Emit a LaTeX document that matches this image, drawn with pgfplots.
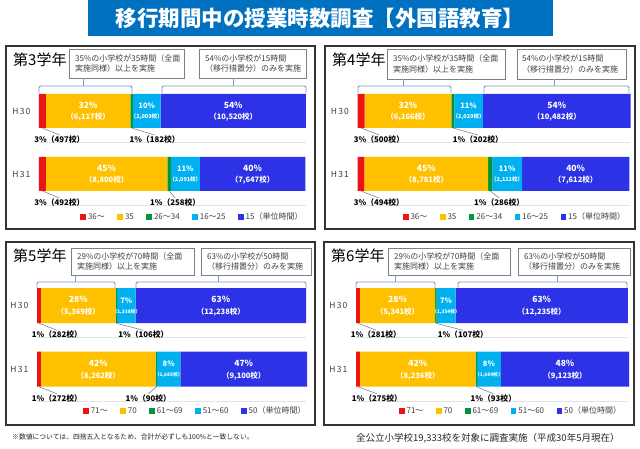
\documentclass[border=0pt]{standalone}
\usepackage{fontspec}
\setmainfont{Noto Sans CJK JP}
\usepackage{pgfplots}
\pgfplotsset{compat=1.18}
\definecolor{cRed}{RGB}{235,20,20}
\definecolor{cYel}{RGB}{255,192,0}
\definecolor{cGrn}{RGB}{0,150,60}
\definecolor{cCya}{RGB}{0,176,240}
\definecolor{cBlu}{RGB}{45,50,230}
\definecolor{cTitle}{RGB}{0,112,192}
\definecolor{cBrk}{RGB}{125,155,200}
\definecolor{cTxt}{RGB}{64,64,64}
\definecolor{cLead}{RGB}{120,135,160}
\tikzset{
  pctl/.style={font=\bfseries\fontsize{8.5}{9}\selectfont, text=white, inner sep=0pt, yshift=6pt},
  cntl/.style={font=\bfseries\fontsize{7.5}{8}\selectfont, text=white, inner sep=0pt, yshift=-6.5pt},
  pcts/.style={font=\bfseries\fontsize{7.5}{8}\selectfont, text=white, inner sep=0pt, yshift=5.5pt},
  cnts/.style={text=white, inner sep=0pt, yshift=-6pt},
  blab/.style={anchor=north, inner sep=0.5pt, font=\bfseries\fontsize{7.8}{8}\selectfont, text=black},
  leader/.style={draw=cLead, line width=0.6pt},
  brk/.style={draw=cBrk, line width=0.9pt},
  abox/.style={draw=gray, line width=0.8pt, fill=white},
  atxt/.style={anchor=west, align=left, inner sep=0pt, font=\fontsize{8}{10.5}\selectfont, text=cTxt},
}
% coordinate placed from data inside an axis
\newcommand{\cp}[3]{\coordinate (#1) at (axis cs:#2,#3);}
% labels drawn after the axes at those coordinates
\newcommand{\inb}[3]{\node[pctl] at (#1) {#2};\node[cntl] at (#1) {#3};}
\newcommand{\inc}[4]{\node[pcts] at (#1) {#2};\node[cnts,font=\bfseries\fontsize{#4}{#4}\selectfont] at (#1) {#3};}
\newcommand{\bl}[4]{\draw[leader] (#1) ++(0pt,-#4) -- ++(#2,-7pt) node[blab] {#3};}
\pgfplotsset{
  panel/.style={
    xbar stacked, scale only axis,
    xmin=0, xmax=19333, ymin=-0.5, ymax=1.5,
    axis line style={draw=none},
    xtick=\empty, ytick={0,1},
    yticklabels={\mbox{H\kern1.2pt3\kern1.2pt1},\mbox{H\kern1.2pt3\kern1.2pt0}},
    major tick length=0pt,
    yticklabel style={font=\fontsize{8.5}{10}\selectfont, text=cTxt, xshift=-5pt},
    extra y ticks={-0.5,0.5}, extra y tick labels={},
    extra y tick style={grid=major, major grid style={gray!22, line width=0.6pt}},
    legend image code/.code={\fill[##1] (0pt,-2.8pt) rectangle (5.6pt,2.8pt);},
    legend columns=5,
    legend style={draw=none, fill=none, font=\fontsize{8}{9}\selectfont, text=cTxt, anchor=center,
       /tikz/every even column/.append style={column sep=10.5pt}},
    clip=false,
  },
}
\begin{document}
\begin{tikzpicture}
\begin{scope}[x=1pt,y=1pt]
\path[use as bounding box, fill=white] (0,0) rectangle (640,449);
% title
\fill[cTitle] (88,449) rectangle (553,413);
\node[text=white, font=\bfseries\fontsize{21.5}{24}\selectfont] at (320,431) {移行期間中の授業時数調査【外国語教育】};
% frames
\draw[line width=1.3pt, draw=black!80] (6,403) rectangle (315,220);
\draw[line width=1.3pt, draw=black!80] (325,403) rectangle (635,220);
\draw[line width=1.3pt, draw=black!80] (6,207) rectangle (315,24);
\draw[line width=1.3pt, draw=black!80] (324,207) rectangle (634,24);
% grade titles
\node[anchor=west, inner sep=0pt, font=\fontsize{15}{16}\selectfont] at (13,389) {第3学年};
\node[anchor=west, inner sep=0pt, font=\fontsize{15}{16}\selectfont] at (332,389) {第4学年};
\node[anchor=west, inner sep=0pt, font=\fontsize{15}{16}\selectfont] at (13,193) {第5学年};
\node[anchor=west, inner sep=0pt, font=\fontsize{15}{16}\selectfont] at (331,193) {第6学年};
% annotation boxes
\draw[abox] (69,400) rectangle (184,371);
\node[atxt] at (75,385.5) {35\%の小学校が35時間（全面\\実施同様）以上を実施};
\draw[abox] (199,400) rectangle (306,371);
\node[atxt] at (205,385.5) {54\%の小学校が15時間\\（移行措置分）のみを実施};
\draw[abox] (387,400) rectangle (505,370);
\node[atxt] at (393,385) {35\%の小学校が35時間（全面\\実施同様）以上を実施};
\draw[abox] (517,400) rectangle (626,370);
\node[atxt] at (522,385) {54\%の小学校が15時間\\（移行措置分）のみを実施};
\draw[abox] (71,201) rectangle (194,174);
\node[atxt] at (77,187.5) {29\%の小学校が70時間（全面\\実施同様）以上を実施};
\draw[abox] (201,201) rectangle (311,174);
\node[atxt] at (207,187.5) {63\%の小学校が50時間\\（移行措置分）のみを実施};
\draw[abox] (388,201) rectangle (510,174);
\node[atxt] at (394,187.5) {29\%の小学校が70時間（全面\\実施同様）以上を実施};
\draw[abox] (518,201) rectangle (630,174);
\node[atxt] at (524,187.5) {63\%の小学校が50時間\\（移行措置分）のみを実施};
% brackets
\draw[brk, rounded corners=2pt] (39,356) -- (39,363) -- (132,363) -- (132,356); \draw[brk] (83,363) -- (83,371);
\draw[brk, rounded corners=2pt] (162,356) -- (162,363) -- (306,363) -- (306,356); \draw[brk] (233,363) -- (233,371);
\draw[brk, rounded corners=2pt] (358,356) -- (358,363) -- (451,363) -- (451,356); \draw[brk] (403,363) -- (403,370);
\draw[brk, rounded corners=2pt] (484,356) -- (484,363) -- (629,363) -- (629,356); \draw[brk] (554,363) -- (554,370);
\draw[brk, rounded corners=2pt] (37,161) -- (37,167) -- (115,167) -- (115,161); \draw[brk] (75,167) -- (75,174);
\draw[brk, rounded corners=2pt] (136,161) -- (136,167) -- (306,167) -- (306,161); \draw[brk] (218,167) -- (218,174);
\draw[brk, rounded corners=2pt] (356,161) -- (356,167) -- (435,167) -- (435,161); \draw[brk] (395,167) -- (395,174);
\draw[brk, rounded corners=2pt] (458,161) -- (458,167) -- (627,167) -- (627,161); \draw[brk] (557,167) -- (557,174);
% footers
\node[anchor=west, inner sep=0pt, font=\fontsize{6.8}{8}\selectfont, text=black!85] at (12,12) {※数値については、四捨五入となるため、合計が必ずしも100\%と一致しない。};
\node[anchor=west, inner sep=0pt, font=\fontsize{9.5}{11}\selectfont, text=black!85] at (356,11) {全公立小学校19,333校を対象に調査実施（平成30年5月現在）};
\end{scope}

% ---------- Panel 1: grade 3
\begin{axis}[panel, at={(39pt,243.5pt)}, anchor=south west, width=267pt, height=126pt, bar width=34pt,
  legend style={at={(0.575,-0.091)}}]
\addplot[fill=cRed, draw=none] coordinates {(497,1) (492,0)};
\addplot[fill=cYel, draw=none] coordinates {(6117,1) (8800,0)};
\addplot[fill=cGrn, draw=none] coordinates {(182,1) (258,0)};
\addplot[fill=cCya, draw=none] coordinates {(2009,1) (2091,0)};
\addplot[fill=cBlu, draw=none] coordinates {(10520,1) (7647,0)};
\legend{36～,35,26～34,16～25,15（単位時間）}
\cp{aY1}{3555.5}{1}\cp{aC1}{7800.5}{1}\cp{aB1}{14065}{1}
\cp{aY0}{4892}{0}\cp{aC0}{10595.5}{0}\cp{aB0}{15464.5}{0}
\cp{aR1}{248.5}{1}\cp{aG1}{6705}{1}\cp{aR0}{246}{0}\cp{aG0}{9421}{0}
\end{axis}

% ---------- Panel 2: grade 4
\begin{axis}[panel, at={(357.5pt,243.5pt)}, anchor=south west, width=272.5pt, height=126pt, bar width=34pt,
  legend style={at={(0.578,-0.091)}}]
\addplot[fill=cRed, draw=none] coordinates {(500,1) (494,0)};
\addplot[fill=cYel, draw=none] coordinates {(6166,1) (8781,0)};
\addplot[fill=cGrn, draw=none] coordinates {(202,1) (286,0)};
\addplot[fill=cCya, draw=none] coordinates {(2029,1) (2112,0)};
\addplot[fill=cBlu, draw=none] coordinates {(10482,1) (7612,0)};
\legend{36～,35,26～34,16～25,15（単位時間）}
\cp{bY1}{3583}{1}\cp{bC1}{7882.5}{1}\cp{bB1}{14138}{1}
\cp{bY0}{4884.5}{0}\cp{bC0}{10617}{0}\cp{bB0}{15479}{0}
\cp{bR1}{250}{1}\cp{bG1}{6767}{1}\cp{bR0}{247}{0}\cp{bG0}{9418}{0}
\end{axis}

% ---------- Panel 3: grade 5
\begin{axis}[panel, at={(37pt,48pt)}, anchor=south west, width=269pt, height=127pt, bar width=35pt,
  legend style={at={(0.589,-0.079)}}]
\addplot[fill=cRed, draw=none] coordinates {(282,1) (272,0)};
\addplot[fill=cYel, draw=none] coordinates {(5369,1) (8262,0)};
\addplot[fill=cGrn, draw=none] coordinates {(106,1) (90,0)};
\addplot[fill=cCya, draw=none] coordinates {(1338,1) (1685,0)};
\addplot[fill=cBlu, draw=none] coordinates {(12238,1) (9100,0)};
\legend{71～,70,61～69,51～60,50（単位時間）}
\cp{cY1}{2966.5}{1}\cp{cC1}{6426}{1}\cp{cB1}{13214}{1}
\cp{cY0}{4403}{0}\cp{cC0}{9466.5}{0}\cp{cB0}{14859}{0}
\cp{cR1}{141}{1}\cp{cG1}{5704}{1}\cp{cR0}{136}{0}\cp{cG0}{8579}{0}
\end{axis}

% ---------- Panel 4: grade 6
\begin{axis}[panel, at={(356pt,48pt)}, anchor=south west, width=272pt, height=127pt, bar width=35pt,
  legend style={at={(0.57,-0.079)}}]
\addplot[fill=cRed, draw=none] coordinates {(281,1) (275,0)};
\addplot[fill=cYel, draw=none] coordinates {(5341,1) (8236,0)};
\addplot[fill=cGrn, draw=none] coordinates {(107,1) (93,0)};
\addplot[fill=cCya, draw=none] coordinates {(1354,1) (1689,0)};
\addplot[fill=cBlu, draw=none] coordinates {(12235,1) (9123,0)};
\legend{71～,70,61～69,51～60,50（単位時間）}
\cp{dY1}{2951.5}{1}\cp{dC1}{6406}{1}\cp{dB1}{13200.5}{1}
\cp{dY0}{4393}{0}\cp{dC0}{9448.5}{0}\cp{dB0}{14854.5}{0}
\cp{dR1}{140.5}{1}\cp{dG1}{5675.5}{1}\cp{dR0}{137.5}{0}\cp{dG0}{8557.5}{0}
\end{axis}

% ---------- labels (on top of the bars)
\inb{aY1}{32\%}{（6,117校）}\inc{aC1}{10\%}{（2,009校）}{5.5}\inb{aB1}{54\%}{（10,520校）}
\inb{aY0}{45\%}{（8,800校）}\inc{aC0}{11\%}{（2,091校）}{5.5}\inb{aB0}{40\%}{（7,647校）}
\bl{aR1}{17pt}{3\%（497校）}{17pt}\bl{aG1}{23pt}{1\%（182校）}{17pt}
\bl{aR0}{17pt}{3\%（492校）}{17pt}\bl{aG0}{6pt}{1\%（258校）}{17pt}

\inb{bY1}{32\%}{（6,166校）}\inc{bC1}{11\%}{（2,029校）}{5.5}\inb{bB1}{54\%}{（10,482校）}
\inb{bY0}{45\%}{（8,781校）}\inc{bC0}{11\%}{（2,112校）}{5.5}\inb{bB0}{40\%}{（7,612校）}
\bl{bR1}{18pt}{3\%（500校）}{17pt}\bl{bG1}{25pt}{1\%（202校）}{17pt}
\bl{bR0}{18pt}{3\%（494校）}{17pt}\bl{bG0}{9pt}{1\%（286校）}{17pt}

\inb{cY1}{28\%}{（5,369校）}\inc{cC1}{7\%}{（1,338校）}{4.8}\inb{cB1}{63\%}{（12,238校）}
\inb{cY0}{42\%}{（8,262校）}\inc{cC0}{8\%}{（1,685校）}{4.8}\inb{cB0}{47\%}{（9,100校）}
\bl{cR1}{18pt}{1\%（282校）}{17.5pt}\bl{cG1}{27pt}{1\%（106校）}{17.5pt}
\bl{cR0}{18pt}{1\%（272校）}{17.5pt}\bl{cG0}{-8pt}{1\%（90校）}{17.5pt}

\inb{dY1}{28\%}{（5,341校）}\inc{dC1}{7\%}{（1,354校）}{4.8}\inb{dB1}{63\%}{（12,235校）}
\inb{dY0}{42\%}{（8,236校）}\inc{dC0}{8\%}{（1,689校）}{4.8}\inb{dB0}{48\%}{（9,123校）}
\bl{dR1}{18pt}{1\%（281校）}{17.5pt}\bl{dG1}{27pt}{1\%（107校）}{17.5pt}
\bl{dR0}{19pt}{1\%（275校）}{17.5pt}\bl{dG0}{17pt}{1\%（93校）}{17.5pt}
\end{tikzpicture}
\end{document}
